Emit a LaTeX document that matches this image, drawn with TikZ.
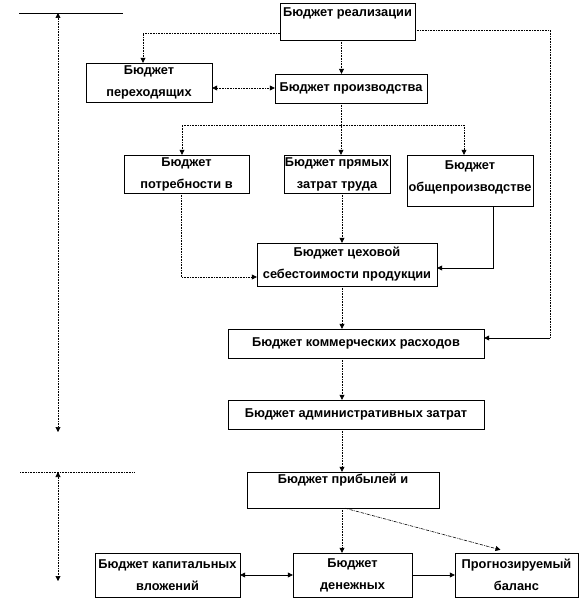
\documentclass[tikz,border=0pt]{standalone}
\usepackage{fontspec}
\setmainfont{Liberation Sans}
\usetikzlibrary{arrows.meta}

\tikzset{
  budget/.style 2 args={draw, thin, minimum width=#1, minimum height=#2,
    inner sep=0pt, align=center, font=\bfseries\fontsize{12.8}{22}\selectfont},
  flow/.style={densely dotted, semithick, -{Triangle[length=5pt,width=5pt]}},
  solidflow/.style={semithick, -{Triangle[length=5pt,width=5pt]}},
  twoway/.style={semithick, {Triangle[length=5pt,width=5pt]}-{Triangle[length=5pt,width=5pt]}},
}

\begin{document}
\begin{tikzpicture}[x=1pt, y=-1pt]
  \useasboundingbox (0,0) rectangle (583,601);

  % Budgets of the operating part
  \node[budget={135}{37}] (real) at (347.5,21.5) {Бюджет реализации\\[-4pt]~};
  \node[budget={126}{39}] (perex) at (149,82.5) {Бюджет\\переходящих};
  \node[budget={152}{29}] (proizv) at (351,88.5) {Бюджет производства};
  \node[budget={125}{38}] (potreb) at (186.5,174) {Бюджет\\потребности в};
  \node[budget={106}{38}] (pryam) at (337,174) {Бюджет прямых\\затрат труда};
  \node[budget={126}{51}] (obshch) at (470,180.5) {Бюджет\\общепроизводстве\\[-14pt]~};
  \node[budget={180}{43}] (tseh) at (347,264.5) {Бюджет цеховой\\себестоимости продукции};
  \node[budget={256}{29}] (kommer) at (356,343.5) {Бюджет коммерческих расходов};
  \node[budget={256}{29}] (admin) at (356,414.5) {Бюджет административных затрат};

  % Budgets of the financial part
  \node[budget={192}{36}] (pribyl) at (343,490) {Бюджет прибылей и\\~};
  \node[budget={145}{44}] (kapital) at (167.5,575) {Бюджет капитальных\\вложений};
  \node[budget={119}{44}] (denezh) at (352.5,575) {Бюджет\\денежных};
  \node[budget={123}{44}] (balans) at (516.5,575) {Прогнозируемый\\баланс};

  % Turning points
  \coordinate (split) at (341,125);
  \coordinate (rturn) at (550,338);

  % Connectors
  \draw[flow] ([yshift=-11.5]real.west) -| ([xshift=-6]perex.north);
  \draw[flow] ([xshift=-6]real.south) -- ([xshift=-6]real.south |- proizv.north);
  \draw[densely dotted, semithick, {Triangle[length=5pt,width=5pt]}-{Triangle[length=5pt,width=5pt]}]
    ([yshift=-5.5]perex.east) -- ([yshift=-5.5]perex.east -| proizv.west);
  \draw[flow] ([xshift=-10]proizv.south) -- (split |- pryam.north);
  \draw[flow] (split) -| ([xshift=-4.5]potreb.north);
  \draw[flow] (split) -| ([xshift=-6]obshch.north);
  \draw[flow] ([xshift=-5.5]potreb.south) |- ([yshift=-12.5]tseh.west);
  \draw[flow] ([xshift=5]pryam.south) -- ([xshift=5]pryam.south |- tseh.north);
  \draw[solidflow] ([xshift=23]obshch.south) |- ([yshift=-3.5]tseh.east);
  \draw[flow] ([xshift=-5]tseh.south) -- ([xshift=-5]tseh.south |- kommer.north);
  \draw[densely dotted, semithick] ([yshift=-8.5]real.east) -| (rturn);
  \draw[solidflow] (rturn) -- (rturn -| kommer.east);
  \draw[flow] ([xshift=-14]kommer.south) -- ([xshift=-14]kommer.south |- admin.north);
  \draw[flow] ([xshift=-14]admin.south) -- ([xshift=-14]admin.south |- pribyl.north);
  \draw[flow] ([xshift=-1]pribyl.south) -- ([xshift=-1]pribyl.south |- denezh.north);
  \draw[flow, densely dashdotted] ([xshift=2]pribyl.south) -- ([xshift=-16,yshift=3]balans.north);
  \draw[twoway] (kapital) -- (denezh);
  \draw[solidflow] (denezh) -- (balans);

  % Period markers on the left
  \coordinate (topline) at (58,13);
  \coordinate (midline) at (58,472);
  \draw[semithick] (19,13) -- (123,13);
  \draw[densely dotted, semithick] (20,472) -- (134,472);
  \draw[densely dotted, semithick, {Triangle[length=5pt,width=5pt]}-{Triangle[length=5pt,width=5pt]}]
    (topline) -- (58,432);
  \draw[densely dotted, semithick, {Triangle[length=5pt,width=5pt]}-{Triangle[length=5pt,width=5pt]}]
    (midline) -- (58,581);
\end{tikzpicture}
\end{document}
